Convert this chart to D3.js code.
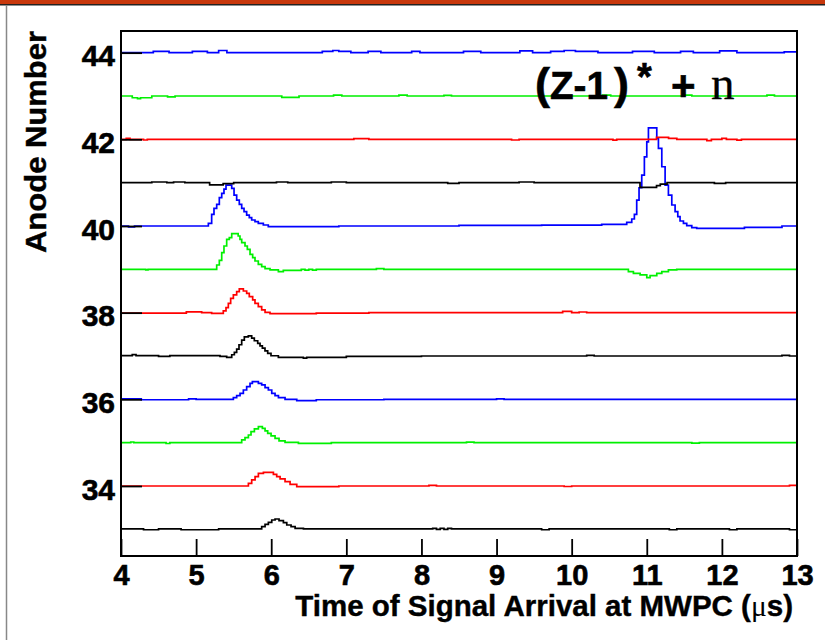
<!DOCTYPE html>
<html>
<head>
<meta charset="utf-8">
<script src="https://cdn.jsdelivr.net/npm/d3@7"></script>
<style>
  body { margin: 0; background: #fff; }
  svg { display: block; }
</style>
</head>
<body>
<div id="graph-area"></div>
<script>
// anode numbers, bottom to top
var anodes = [33, 34, 35, 36, 37, 38, 39, 40, 41, 42, 43, 44];

// each trace: [time (us), offset from anode baseline] step points
var trace33 = [[4,0.008],[4.3,-0.01],[4.5,0.008],[4.8,-0.01],[5.3,0.008],[5.873,0.062],[5.918,0.116],[5.962,0.162],[6.007,0.215],[6.051,0.238],[6.104,0.2],[6.162,0.154],[6.207,0.1],[6.264,0.062],[6.318,0.023],[6.429,0.008],[8.15,0.02],[8.2,0],[8.25,0.02],[8.3,0],[8.35,0.02],[8.4,0.008],[9.6,-0.01],[9.7,0.008],[11.3,-0.01],[11.4,0.008],[12.1,-0.01],[12.2,0.008],[12.9,-0.01]];
var trace34 = [[4,0],[5.696,0.062],[5.74,0.139],[5.785,0.215],[5.829,0.292],[5.896,0.315],[6.029,0.269],[6.073,0.215],[6.118,0.162],[6.184,0.1],[6.251,0.039],[6.34,-0.015],[6.9,0],[8.1,0.015],[8.2,0],[9.9,-0.012],[10.0,0],[12.9,0.015]];
var trace35 = [[4,0],[4.13,0.015],[4.17,0],[4.6,-0.02],[4.65,0],[5.607,0.062],[5.651,0.116],[5.696,0.177],[5.731,0.254],[5.776,0.316],[5.829,0.37],[5.882,0.331],[5.918,0.27],[5.953,0.216],[5.998,0.154],[6.051,0.1],[6.104,0.039],[6.184,0.008],[6.362,-0.015],[6.8,0],[8.6,0.012],[8.7,0],[11.6,-0.012],[11.7,0]];
var trace36 = [[4,0.01],[4.27,-0.01],[4.9,0.01],[5.0,0],[5.496,0.038],[5.54,0.085],[5.585,0.139],[5.629,0.215],[5.673,0.292],[5.718,0.369],[5.749,0.408],[5.829,0.369],[5.873,0.331],[5.918,0.269],[5.962,0.215],[6.007,0.139],[6.051,0.085],[6.096,0.038],[6.184,0],[6.34,-0.031],[6.6,-0.01],[7.5,0],[9.0,0.012],[9.1,0]];
var trace37 = [[4,0.01],[4.15,0.03],[4.2,0.01],[4.5,-0.01],[4.65,0.01],[5.318,-0.01],[5.407,-0.03],[5.474,0.028],[5.509,0.082],[5.54,0.159],[5.571,0.259],[5.607,0.366],[5.642,0.443],[5.695,0.466],[5.74,0.412],[5.775,0.351],[5.82,0.289],[5.851,0.235],[5.882,0.182],[5.917,0.12],[5.953,0.059],[5.997,0.005],[6.095,-0.03],[6.428,-0.05],[6.472,-0.03],[7.0,-0.01],[8.0,0],[10.2,0.012],[10.3,0],[12.8,0.012],[12.9,0]];
var trace38 = [[4,-0.01],[4.87,0.02],[5.074,0],[5.207,-0.015],[5.362,0.039],[5.398,0.116],[5.429,0.216],[5.46,0.331],[5.496,0.408],[5.54,0.485],[5.575,0.547],[5.629,0.5],[5.673,0.447],[5.708,0.37],[5.753,0.293],[5.784,0.216],[5.828,0.139],[5.873,0.062],[5.918,0.008],[5.984,-0.023],[6.6,-0.01],[7.3,0],[9.88,0.03],[10.0,0],[10.1,0.015],[10.2,0]];
var trace39 = [[4,0],[4.33,-0.015],[4.36,0],[5.274,0.1],[5.309,0.208],[5.341,0.385],[5.371,0.538],[5.407,0.692],[5.442,0.731],[5.474,0.823],[5.56,0.769],[5.584,0.692],[5.607,0.615],[5.651,0.538],[5.682,0.462],[5.718,0.346],[5.753,0.269],[5.784,0.192],[5.828,0.115],[5.873,0.062],[5.918,0.015],[5.984,-0.015],[6.095,-0.054],[6.161,-0.023],[6.4,0],[6.45,-0.02],[6.5,0],[6.55,-0.02],[6.6,0],[7.4,0.015],[7.5,0],[10.755,-0.054],[10.822,-0.092],[10.911,-0.13],[11.0,-0.19],[11.044,-0.146],[11.133,-0.092],[11.2,-0.054],[11.288,-0.015],[11.399,0]];
var trace40 = [[4,0],[4.1,-0.02],[4.18,0],[5.163,0.061],[5.207,0.27],[5.238,0.407],[5.274,0.5],[5.309,0.653],[5.341,0.753],[5.371,0.853],[5.398,0.945],[5.474,0.868],[5.505,0.714],[5.54,0.599],[5.575,0.5],[5.607,0.407],[5.638,0.33],[5.673,0.253],[5.708,0.192],[5.74,0.138],[5.784,0.1],[5.828,0.061],[5.895,0.023],[5.961,-0.015],[6.9,0],[8.5,0.015],[9.6,0.02],[10.4,0.038],[10.733,0.085],[10.8,0.161],[10.835,0.269],[10.866,0.599],[10.897,0.883],[10.933,1.175],[10.968,1.597],[11.0,1.943],[11.022,2.265],[11.133,2.02],[11.155,1.79],[11.2,1.367],[11.244,0.945],[11.288,0.714],[11.333,0.484],[11.377,0.33],[11.413,0.215],[11.443,0.115],[11.488,0.061],[11.532,0.008],[11.599,-0.038],[11.665,-0.054],[12.3,-0.03],[12.8,0]];
var trace41 = [[4,0],[4.41,0.015],[4.61,0],[4.7,0.015],[4.85,0],[5.18,-0.05],[5.36,-0.02],[5.5,0],[6.07,0.015],[6.22,0],[6.8,0.015],[7.0,0],[8.35,-0.015],[8.5,0],[9.3,0.015],[9.5,0],[10.91,-0.11],[11.13,-0.07],[11.18,-0.035],[11.27,0],[11.9,-0.015],[12.05,0]];
var trace42 = [[4,0],[4.07,0.02],[4.12,0],[4.3,-0.015],[4.35,0],[7.1,0.015],[7.3,0],[9.2,-0.015],[9.3,0],[10.55,-0.02],[10.6,0],[11.13,0.045],[11.29,0.02],[11.4,0],[11.8,-0.03],[11.86,0],[12.0,0.02],[12.06,0],[12.2,-0.02],[12.26,0]];
var trace43 = [[4,0],[4.15,-0.04],[4.22,-0.06],[4.26,-0.04],[4.41,0],[4.62,-0.02],[4.72,0],[6.14,-0.03],[6.37,0],[6.83,0.02],[6.94,0],[7.7,0.02],[7.81,0],[8.3,0.015],[8.4,0],[10.41,0.02],[10.52,0],[11.5,0.02],[11.6,0],[12.6,0.02],[12.7,0]];
var trace44 = [[4,0],[4.43,0.03],[4.64,0],[4.95,0.03],[5.15,0],[5.3,0.05],[5.41,0],[6.68,0.03],[6.82,0.05],[6.9,0.03],[7.06,0],[7.29,0.03],[7.46,0],[7.87,0.03],[7.98,0],[8.56,0.03],[8.79,0],[9.31,0.04],[9.48,0],[9.72,0.03],[9.9,0.05],[10.05,0.03],[10.35,0],[10.81,0.03],[11.1,0],[11.45,0.03],[11.62,0],[11.97,0.04],[12.2,0],[12.83,0.02]];

var traceColors = ["#000000", "#ff0000", "#00f000", "#0000ff"];

// tick labels
var xMajor = [4, 5, 6, 7, 8, 9, 10, 11, 12, 13];
var yMajor = [34, 36, 38, 40, 42, 44];

var sans = "Liberation Sans, Arial, Helvetica, sans-serif";
var serif = "Liberation Serif, Times New Roman, serif";

var width = 825, height = 640;
var frame = {left: 121, right: 797, top: 31, bottom: 556};

var svg = d3.select("#graph-area")
    .append("svg")
    .attr("width", width)
    .attr("height", height)
    .attr("font-family", sans);

// slide decoration
svg.append("rect").attr("x", 0).attr("y", 0).attr("width", width).attr("height", 4).attr("fill", "#c8380c");
svg.append("rect").attr("x", 0).attr("y", 4).attr("width", width).attr("height", 1.5).attr("fill", "#222");
svg.append("line").attr("x1", 6.5).attr("x2", 6.5).attr("y1", 5).attr("y2", height)
    .attr("stroke", "#888").attr("stroke-width", 1.5);

var x = d3.scaleLinear().domain([4, 13]).range([frame.left, frame.right]);
var y = d3.scaleLinear().domain([32.384, 44.5]).range([frame.bottom, frame.top]);

var traces = [trace33, trace34, trace35, trace36, trace37, trace38, trace39, trace40, trace41, trace42, trace43, trace44];

var line = d3.line()
    .x(function(d) { return x(d[0]); })
    .y(function(d) { return y(d[1]); })
    .curve(d3.curveStepAfter);

var plot = svg.append("g").attr("class", "traces");
anodes.forEach(function(a, i) {
    var pts = traces[i].map(function(p) { return [p[0], a + p[1]]; });
    pts.push([13, pts[pts.length - 1][1]]);
    plot.append("path")
        .attr("d", line(pts))
        .attr("fill", "none")
        .attr("stroke", traceColors[i % 4])
        .attr("stroke-width", 1.7);
});

// frame
svg.append("rect")
    .attr("x", frame.left).attr("y", frame.top)
    .attr("width", frame.right - frame.left).attr("height", frame.bottom - frame.top)
    .attr("fill", "none").attr("stroke", "#000").attr("stroke-width", 2);

// minor ticks
var xMinor = d3.range(40, 131, 2).map(function(v) { return v / 10; });
var yMinor = d3.range(65, 90, 1).map(function(v) { return v / 2; });

var gx = svg.append("g").attr("transform", "translate(0," + frame.bottom + ")");
gx.call(d3.axisBottom(x).tickValues(xMinor).tickSize(-8.5).tickFormat(""));
gx.call(d3.axisBottom(x).tickValues(xMajor).tickSize(-17).tickPadding(8).tickFormat(d3.format("d")));
gx.selectAll(".domain").remove();

var gy = svg.append("g").attr("transform", "translate(" + frame.left + ",0)");
gy.call(d3.axisLeft(y).tickValues(yMinor).tickSize(-11).tickFormat(""));
gy.call(d3.axisLeft(y).tickValues(yMajor).tickSize(-21).tickPadding(6).tickFormat(d3.format("d")));
gy.selectAll(".domain").remove();

svg.selectAll(".tick line").attr("stroke", "#000").attr("stroke-width", 1.8);
gx.selectAll(".tick text").attr("font-size", 29).attr("font-weight", "bold").attr("fill", "#000")
    .attr("font-family", sans).attr("stroke", "#000").attr("stroke-width", 0.6);
gy.selectAll(".tick text").attr("font-size", 30).attr("font-weight", "bold").attr("fill", "#000")
    .attr("dy", "0.44em").attr("font-family", sans).attr("stroke", "#000").attr("stroke-width", 0.6);

// axis titles
svg.append("text")
    .attr("x", 793).attr("y", 616)
    .attr("text-anchor", "end")
    .attr("font-size", 29.5).attr("font-weight", "bold")
    .attr("stroke", "#000").attr("stroke-width", 0.4)
    .html('Time of Signal Arrival at MWPC (<tspan font-family="' + serif + '" font-weight="normal" stroke-width="0">\u03bc</tspan>s)');

svg.append("text")
    .attr("transform", "translate(46,253) rotate(-90)")
    .attr("font-size", 29).attr("font-weight", "bold")
    .attr("stroke", "#000").attr("stroke-width", 0.4)
    .attr("textLength", 222).attr("lengthAdjust", "spacingAndGlyphs")
    .text("Anode Number");

// reaction label
var lab = svg.append("g").attr("class", "label").attr("font-weight", "bold")
    .attr("stroke", "#000").attr("stroke-width", 0.6);
lab.append("text").attr("x", 535).attr("y", 98.5).attr("font-size", 45).text("(");
lab.append("text").attr("x", 550).attr("y", 98.5).attr("font-size", 39)
    .attr("textLength", 58).attr("lengthAdjust", "spacingAndGlyphs").text("Z-1");
lab.append("text").attr("x", 614).attr("y", 98.5).attr("font-size", 45).text(")");
lab.append("text").attr("x", 637).attr("y", 90).attr("font-size", 38).text("*");
lab.append("text").attr("x", 671).attr("y", 100).attr("font-size", 42).text("+");
lab.append("text").attr("x", 711).attr("y", 98.5).attr("font-size", 47).attr("font-weight", "normal")
    .attr("stroke-width", 0.3).attr("font-family", serif).text("n");
</script>
</body>
</html>
